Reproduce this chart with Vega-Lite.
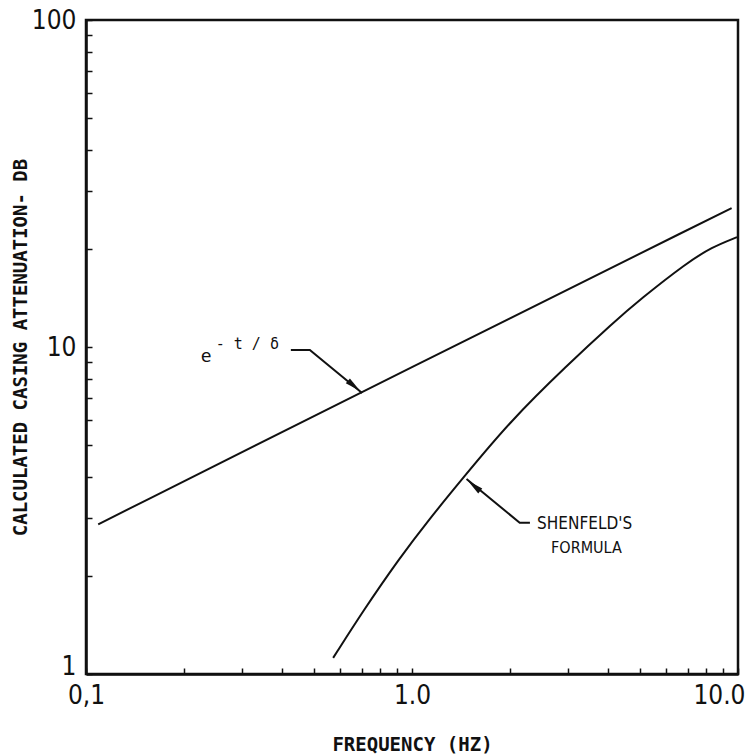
{
  "$schema": "https://vega.github.io/schema/vega-lite/v6.json",
  "width": 652,
  "height": 654,
  "autosize": {"type": "none"},
  "padding": {"left": 86, "top": 20, "right": 11, "bottom": 82},
  "background": "white",
  "config": {
    "view": {"stroke": "#111", "strokeWidth": 2.5},
    "axis": {"grid": false, "domainColor": "#111", "domainWidth": 2.5, "tickColor": "#111", "tickWidth": 1.5, "labelColor": "#111", "titleColor": "#111"}
  },
  "datasets": {
    "curves": [
      {"series": "exp", "f": 0.109, "a": 2.87, "o": 1},
      {"series": "exp", "f": 1.0, "a": 8.7, "o": 2},
      {"series": "exp", "f": 9.56, "a": 26.6, "o": 3},
      {"series": "shenfeld", "f": 0.573, "a": 1.12, "o": 1},
      {"series": "shenfeld", "f": 0.708, "a": 1.56, "o": 2},
      {"series": "shenfeld", "f": 0.912, "a": 2.25, "o": 3},
      {"series": "shenfeld", "f": 1.122, "a": 2.95, "o": 4},
      {"series": "shenfeld", "f": 1.429, "a": 3.96, "o": 5},
      {"series": "shenfeld", "f": 2.0, "a": 5.93, "o": 6},
      {"series": "shenfeld", "f": 2.99, "a": 8.79, "o": 7},
      {"series": "shenfeld", "f": 4.14, "a": 11.86, "o": 8},
      {"series": "shenfeld", "f": 5.0, "a": 13.96, "o": 9},
      {"series": "shenfeld", "f": 6.98, "a": 18.11, "o": 10},
      {"series": "shenfeld", "f": 8.3, "a": 20.18, "o": 11},
      {"series": "shenfeld", "f": 9.93, "a": 21.68, "o": 12}
    ],
    "leaders": [
      {"id": "exp", "f": 0.425, "a": 9.79, "o": 1},
      {"id": "exp", "f": 0.486, "a": 9.79, "o": 2},
      {"id": "exp", "f": 0.703, "a": 7.23, "o": 3},
      {"id": "shenfeld", "f": 1.47, "a": 3.95, "o": 1},
      {"id": "shenfeld", "f": 2.14, "a": 2.9, "o": 2},
      {"id": "shenfeld", "f": 2.3, "a": 2.9, "o": 3}
    ],
    "arrows": [
      {"id": "exp", "f": 0.664, "a": 7.6},
      {"id": "shenfeld", "f": 1.55, "a": 3.76}
    ],
    "labels": [
      {"role": "base", "f": 0.225, "a": 9.0, "t": "e"},
      {"role": "sup", "f": 0.25, "a": 9.88, "t": "- t / δ"},
      {"role": "name", "f": 2.42, "a": 2.78, "t": "SHENFELD'S"},
      {"role": "name2", "f": 2.67, "a": 2.34, "t": "FORMULA"}
    ]
  },
  "layer": [
    {
      "data": {"name": "curves"},
      "mark": {"type": "line", "color": "#111", "strokeWidth": 2, "interpolate": "basis", "clip": true},
      "encoding": {
        "x": {
          "field": "f", "type": "quantitative",
          "scale": {"type": "log", "domain": [0.1, 10]},
          "axis": {
            "title": "FREQUENCY (HZ)",
            "values": [0.1, 0.2, 0.3, 0.4, 0.5, 0.6, 0.7, 0.8, 0.9, 1, 2, 3, 4, 5, 6, 7, 8, 9, 10],
            "labelExpr": "datum.value == 0.1 ? '0,1' : datum.value == 1 ? '1.0' : datum.value == 10 ? '10.0' : ''",
            "tickSize": -6,
            "labelPadding": 14,
            "labelFont": "Liberation Sans Narrow, DejaVu Sans Condensed, sans-serif",
            "labelFontSize": 26,
            "labelOverlap": false,
            "labelBound": false,
            "labelFlush": false,
            "labelAlign": {"condition": {"test": "datum.value >= 10", "value": "right"}, "value": "center"},
            "labelOffset": {"condition": {"test": "datum.value >= 10", "value": 7}, "value": 0},
            "titleFont": "DejaVu Sans Mono",
            "titleFontSize": 19,
            "titleFontWeight": "bold",
            "titlePadding": 27
          }
        },
        "y": {
          "field": "a", "type": "quantitative",
          "scale": {"type": "log", "domain": [1, 100]},
          "axis": {
            "title": "CALCULATED CASING ATTENUATION- DB",
            "values": [1, 2, 3, 4, 5, 6, 7, 8, 9, 10, 20, 30, 40, 50, 60, 70, 80, 90, 100],
            "labelExpr": "datum.value == 1 ? '1' : datum.value == 10 ? '10' : datum.value == 100 ? '100' : ''",
            "tickSize": -6,
            "labelPadding": 16,
            "labelFont": "Liberation Sans Narrow, DejaVu Sans Condensed, sans-serif",
            "labelFontSize": 26,
            "labelOverlap": false,
            "labelBound": false,
            "labelFlush": false,
            "labelBaseline": {"condition": {"test": "datum.value <= 1", "value": "alphabetic"}, "value": "middle"},
            "titleFont": "DejaVu Sans Mono",
            "titleFontSize": 19,
            "titleFontWeight": "bold",
            "titlePadding": 1
          }
        },
        "detail": {"field": "series"},
        "order": {"field": "o", "type": "quantitative"}
      }
    },
    {
      "data": {"name": "leaders"},
      "mark": {"type": "line", "color": "#111", "strokeWidth": 2},
      "encoding": {
        "x": {"field": "f", "type": "quantitative"},
        "y": {"field": "a", "type": "quantitative"},
        "detail": {"field": "id"},
        "order": {"field": "o", "type": "quantitative"}
      }
    },
    {
      "data": {"name": "arrows"},
      "transform": [{"filter": "datum.id == 'exp'"}],
      "mark": {"type": "point", "shape": "M0,-1L0.4,1L-0.4,1Z", "filled": true, "color": "#111", "opacity": 1, "size": 256, "angle": 129.6},
      "encoding": {
        "x": {"field": "f", "type": "quantitative"},
        "y": {"field": "a", "type": "quantitative"}
      }
    },
    {
      "data": {"name": "arrows"},
      "transform": [{"filter": "datum.id == 'shenfeld'"}],
      "mark": {"type": "point", "shape": "M0,-1L0.4,1L-0.4,1Z", "filled": true, "color": "#111", "opacity": 1, "size": 256, "angle": 309.2},
      "encoding": {
        "x": {"field": "f", "type": "quantitative"},
        "y": {"field": "a", "type": "quantitative"}
      }
    },
    {
      "data": {"name": "labels"},
      "transform": [{"filter": "datum.role == 'base'"}],
      "mark": {"type": "text", "align": "left", "baseline": "alphabetic", "font": "DejaVu Sans Mono", "fontSize": 18, "color": "#111"},
      "encoding": {
        "x": {"field": "f", "type": "quantitative"},
        "y": {"field": "a", "type": "quantitative"},
        "text": {"field": "t"}
      }
    },
    {
      "data": {"name": "labels"},
      "transform": [{"filter": "datum.role == 'sup'"}],
      "mark": {"type": "text", "align": "left", "baseline": "alphabetic", "font": "DejaVu Sans Mono", "fontSize": 15, "color": "#111"},
      "encoding": {
        "x": {"field": "f", "type": "quantitative"},
        "y": {"field": "a", "type": "quantitative"},
        "text": {"field": "t"}
      }
    },
    {
      "data": {"name": "labels"},
      "transform": [{"filter": "datum.role == 'name'"}],
      "mark": {"type": "text", "align": "left", "baseline": "alphabetic", "font": "DejaVu Sans Condensed, DejaVu Sans", "fontSize": 17, "color": "#111"},
      "encoding": {
        "x": {"field": "f", "type": "quantitative"},
        "y": {"field": "a", "type": "quantitative"},
        "text": {"field": "t"}
      }
    },
    {
      "data": {"name": "labels"},
      "transform": [{"filter": "datum.role == 'name2'"}],
      "mark": {"type": "text", "align": "left", "baseline": "alphabetic", "font": "DejaVu Sans Condensed, DejaVu Sans", "fontSize": 16, "color": "#111"},
      "encoding": {
        "x": {"field": "f", "type": "quantitative"},
        "y": {"field": "a", "type": "quantitative"},
        "text": {"field": "t"}
      }
    }
  ]
}
